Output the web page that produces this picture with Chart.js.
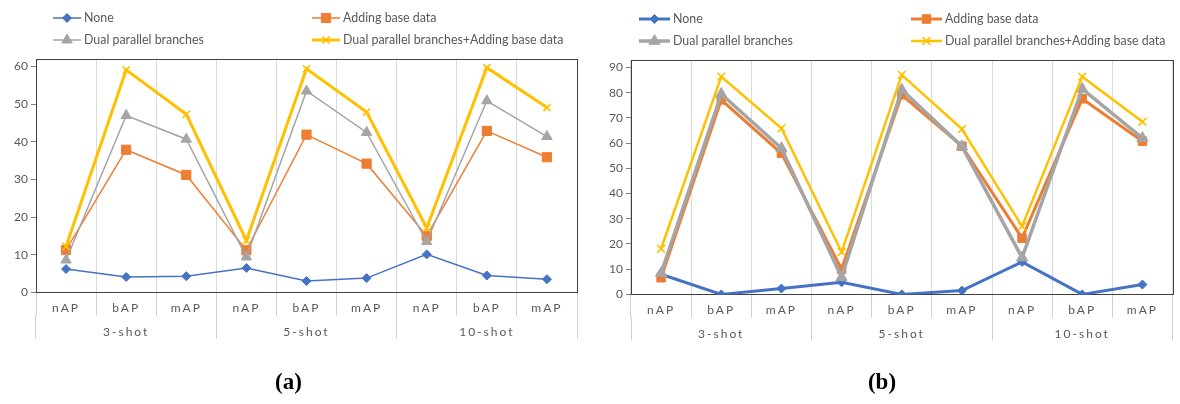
<!DOCTYPE html>
<html>
<head>
<meta charset="utf-8">
<script src="https://cdn.jsdelivr.net/npm/chart.js@4.4.1/dist/chart.umd.min.js"></script>
<style>
  html, body { margin: 0; padding: 0; background: #fff; }
  #wrap { position: relative; width: 1180px; height: 404px; }
  .box { position: absolute; top: 0; width: 590px; height: 404px; }
</style>
</head>
<body>
<div id="wrap">
  <div class="box" style="left:0"><canvas id="chartA"></canvas></div>
  <div class="box" style="left:590px"><canvas id="chartB"></canvas></div>
</div>
<script>
// categories / groups
var categories = ['nAP', 'bAP', 'mAP', 'nAP', 'bAP', 'mAP', 'nAP', 'bAP', 'mAP'];
var groups = ['3-shot', '5-shot', '10-shot'];
var seriesNames = ['None', 'Adding base data', 'Dual parallel branches', 'Dual parallel branches+Adding base data'];

// (a)
var noneA = [6.2, 4.1, 4.3, 6.5, 3.0, 3.8, 10.1, 4.5, 3.5];
var baseA = [11.3, 37.9, 31.2, 11.2, 41.9, 34.2, 15.0, 42.9, 35.9];
var dualA = [8.6, 47.0, 40.7, 9.4, 53.5, 42.5, 13.5, 50.9, 41.4];
var bothA = [12.2, 59.1, 47.3, 13.8, 59.4, 47.9, 17.1, 59.7, 49.1];
var ticksA = [0, 10, 20, 30, 40, 50, 60];

// (b)
var noneB = [8.0, 0, 2.3, 4.8, 0, 1.5, 12.9, 0, 3.9];
var baseB = [6.6, 77.2, 56.0, 10.0, 79.2, 58.8, 22.3, 77.6, 60.8];
var dualB = [8.4, 79.5, 58.0, 6.8, 81.2, 58.7, 14.6, 81.5, 62.0];
var bothB = [18.1, 86.4, 65.9, 16.8, 87.1, 65.6, 27.0, 86.4, 68.5];
var ticksB = [0, 10, 20, 30, 40, 50, 60, 70, 80, 90];

var colors = ['#4472C4', '#ED7D31', '#A5A5A5', '#FFC000'];
var markers = ['rectRot', 'rect', 'triangle', 'crossRot'];
var FONT = 'Lato, "Open Sans", sans-serif';
var TXT = '#595959';

// legend in two columns, drawn on the canvas
var legendPlugin = {
  id: 'sideLegend',
  afterDraw: function(chart, args, opts) {
    var ctx = chart.ctx;
    chart.data.datasets.forEach(function(ds, i) {
      var x = opts.cols[i % 2], y = opts.rows[Math.floor(i / 2)];
      ctx.save();
      ctx.strokeStyle = ds.borderColor;
      ctx.lineWidth = ds.borderWidth;
      ctx.beginPath();
      ctx.moveTo(x, y);
      ctx.lineTo(x + opts.seg, y);
      ctx.stroke();
      ctx.fillStyle = ds.pointBackgroundColor;
      ctx.lineWidth = ds.pointBorderWidth;
      Chart.helpers.drawPoint(ctx, {
        pointStyle: ds.pointStyle, radius: ds.pointRadius,
        borderWidth: ds.pointBorderWidth, rotation: 0
      }, x + opts.seg / 2, y);
      ctx.fillStyle = TXT;
      ctx.font = opts.fontSize + 'px ' + FONT;
      ctx.textBaseline = 'middle';
      ctx.textAlign = 'left';
      ctx.fillText(ds.label, x + opts.seg + opts.gap, y);
      ctx.restore();
    });
  }
};

// box round the plot area
var framePlugin = {
  id: 'frame',
  beforeDatasetsDraw: function(chart) {
    var a = chart.chartArea, ctx = chart.ctx;
    ctx.save();
    ctx.strokeStyle = '#404040';
    ctx.lineWidth = 1;
    ctx.strokeRect(Math.round(a.left) + 0.5, Math.round(a.top) + 0.5,
      Math.round(a.right - a.left), Math.round(a.bottom - a.top));
    ctx.restore();
  }
};

// letter spaced category labels
function spaced(scale) {
  if (scale._spaced) return;
  scale._spaced = true;
  var orig = scale.drawLabels;
  scale.drawLabels = function(area) {
    this.ctx.save();
    this.ctx.letterSpacing = '2px';
    orig.call(this, area);
    this.ctx.restore();
  };
}

function makeChart(id, series, yMax, yTicks, caption, lay) {
  var datasets = series.map(function(values, i) {
    return {
      label: seriesNames[i],
      data: values,
      borderColor: colors[i],
      backgroundColor: colors[i],
      pointBackgroundColor: colors[i],
      pointBorderColor: colors[i],
      borderWidth: lay.lineW[i],
      pointStyle: markers[i],
      pointRadius: lay.pointR[i],
      pointBorderWidth: i === 3 ? 1.6 : 1,
      tension: 0,
      order: 3 - i
    };
  });

  return new Chart(document.getElementById(id), {
    type: 'line',
    data: { labels: categories, datasets: datasets },
    options: {
      responsive: true,
      maintainAspectRatio: false,
      animation: false,
      layout: { padding: lay.padding },
      plugins: {
        legend: { display: false },
        tooltip: { enabled: false },
        title: {
          display: true, position: 'bottom', text: caption, color: '#000',
          font: { family: '"Liberation Serif", serif', size: 23, weight: 'bold' },
          padding: { top: lay.capTop, bottom: 5 }
        },
        sideLegend: lay.legend
      },
      scales: {
        x: {
          type: 'category',
          offset: true,
          grid: { offset: true, color: '#d9d9d9', tickColor: '#d0d0d0', tickLength: 23 },
          border: { color: '#595959' },
          ticks: { padding: -14, color: TXT, maxRotation: 0, autoSkip: false, font: { family: FONT, size: 12 } },
          afterFit: function(s) { s.height = 23; spaced(s); }
        },
        x2: {
          type: 'category',
          labels: groups,
          position: 'bottom',
          weight: 1,
          offset: true,
          grid: { offset: true, drawOnChartArea: false, color: '#d0d0d0', tickLength: 23 },
          border: { display: false },
          ticks: { padding: -13, color: TXT, maxRotation: 0, font: { family: FONT, size: 12 } },
          afterFit: function(s) { s.height = 24; spaced(s); }
        },
        y: {
          min: 0,
          max: yMax,
          afterBuildTicks: function(s) { s.ticks = yTicks.map(function(v) { return { value: v }; }); },
          grid: { drawOnChartArea: false, tickLength: 5, color: '#7f7f7f' },
          border: { color: '#404040' },
          ticks: { padding: 3, color: TXT, font: { family: FONT, size: 12 } },
          afterFit: function(s) { s.width = lay.yW; }
        }
      }
    },
    plugins: [framePlugin, legendPlugin]
  });
}

makeChart('chartA', [noneA, baseA, dualA, bothA], 62, ticksA, '(a)', {
  padding: { left: 0, right: 13, top: 59, bottom: 2 },
  yW: 36,
  capTop: 30,
  lineW: [1.5, 1.5, 1.5, 3],
  pointR: [4.5, 6.5, 6, 5],
  legend: { cols: [53, 312], rows: [18, 40], seg: 28, gap: 3, fontSize: 12.4 }
});

makeChart('chartB', [noneB, baseB, dualB, bothB], 93, ticksB, '(b)', {
  padding: { left: 0, right: 6, top: 60, bottom: 2 },
  yW: 41,
  capTop: 28,
  lineW: [3, 3, 3.5, 2.5],
  pointR: [4.5, 6, 6.5, 5.5],
  legend: { cols: [49, 321], rows: [19, 41], seg: 31, gap: 3, fontSize: 12.4 }
});
</script>
</body>
</html>
